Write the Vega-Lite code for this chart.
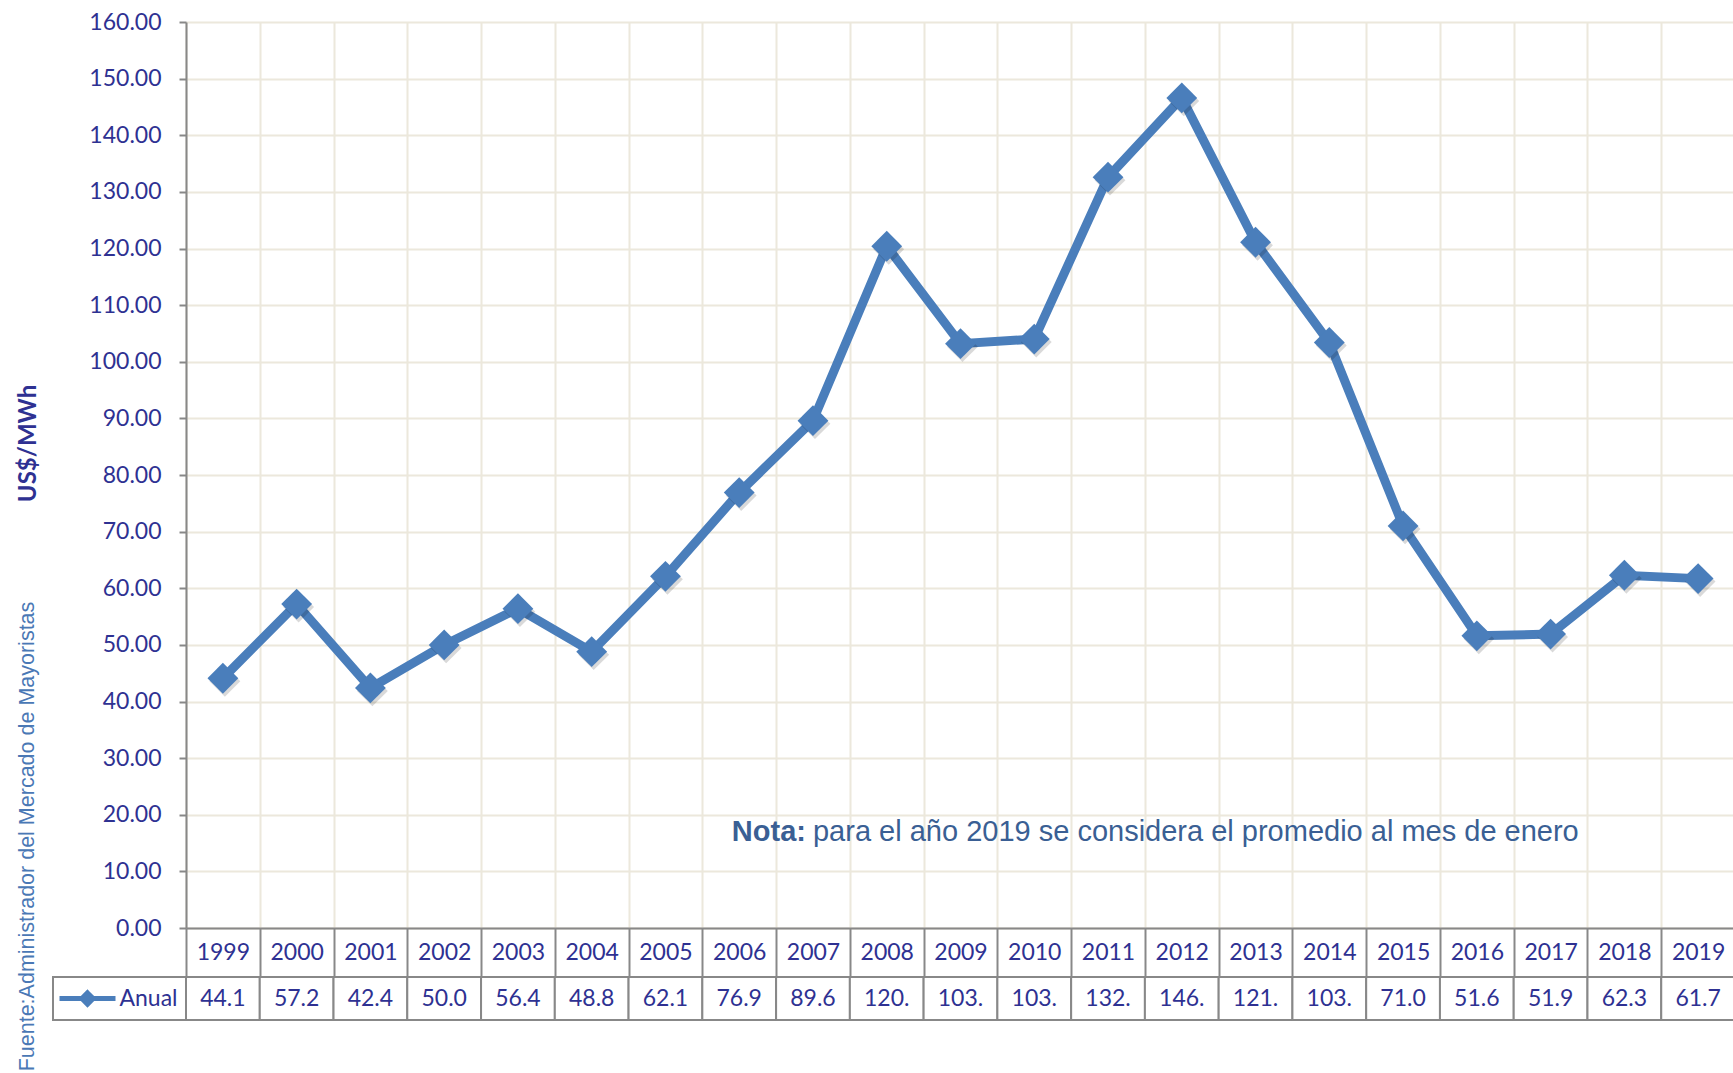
{
  "$schema": "https://vega.github.io/schema/vega-lite/v6.json",
  "padding": {"left": 14, "top": 11, "right": 0, "bottom": 0},
  "background": "white",
  "config": {"view": {"stroke": null}, "font": "Lato"},
  "datasets": {
    "precios": [
      {"anio": "1999", "precio": 44.1, "etiqueta": "44.1"},
      {"anio": "2000", "precio": 57.2, "etiqueta": "57.2"},
      {"anio": "2001", "precio": 42.4, "etiqueta": "42.4"},
      {"anio": "2002", "precio": 50.0, "etiqueta": "50.0"},
      {"anio": "2003", "precio": 56.4, "etiqueta": "56.4"},
      {"anio": "2004", "precio": 48.8, "etiqueta": "48.8"},
      {"anio": "2005", "precio": 62.1, "etiqueta": "62.1"},
      {"anio": "2006", "precio": 76.9, "etiqueta": "76.9"},
      {"anio": "2007", "precio": 89.6, "etiqueta": "89.6"},
      {"anio": "2008", "precio": 120.4, "etiqueta": "120."},
      {"anio": "2009", "precio": 103.2, "etiqueta": "103."},
      {"anio": "2010", "precio": 104.0, "etiqueta": "103."},
      {"anio": "2011", "precio": 132.6, "etiqueta": "132."},
      {"anio": "2012", "precio": 146.6, "etiqueta": "146."},
      {"anio": "2013", "precio": 121.1, "etiqueta": "121."},
      {"anio": "2014", "precio": 103.4, "etiqueta": "103."},
      {"anio": "2015", "precio": 71.0, "etiqueta": "71.0"},
      {"anio": "2016", "precio": 51.6, "etiqueta": "51.6"},
      {"anio": "2017", "precio": 51.9, "etiqueta": "51.9"},
      {"anio": "2018", "precio": 62.3, "etiqueta": "62.3"},
      {"anio": "2019", "precio": 61.7, "etiqueta": "61.7"}
    ],
    "nota": [
      {"anio": "2007", "precio": 17, "titulo": "Nota:", "texto": "para el año 2019 se considera el promedio al mes de enero"}
    ]
  },
  "columns": 2,
  "bounds": "flush",
  "spacing": {"row": 49, "column": 0},
  "resolve": {"scale": {"x": "independent", "y": "independent"}},
  "concat": [
    {
      "width": 133,
      "height": 906,
      "data": {"values": [{"v": 0}]},
      "mark": {"type": "point", "opacity": 0}
    },
    {
      "width": 1549,
      "height": 906,
      "data": {"name": "precios"},
      "encoding": {
        "x": {
          "field": "anio",
          "type": "ordinal",
          "bandPosition": 0.5,
          "scale": {"type": "band", "paddingInner": 0, "paddingOuter": 0},
          "axis": {
            "title": null,
            "tickBand": "extent",
            "grid": true,
            "gridColor": "#ece8dc",
            "gridWidth": 2,
            "ticks": true,
            "tickSize": 49,
            "tickColor": "#888888",
            "tickWidth": 2,
            "domainColor": "#888888",
            "domainWidth": 2,
            "labelAngle": 0,
            "labelFont": "Lato",
            "labelFontSize": 23,
            "labelColor": "#2e3192",
            "labelBaseline": "middle",
            "labelPadding": -24.5
          }
        },
        "y": {
          "field": "precio",
          "type": "quantitative",
          "scale": {"domain": [0, 160], "nice": false},
          "axis": {
            "title": "US$/MWh",
            "values": [0, 10, 20, 30, 40, 50, 60, 70, 80, 90, 100, 110, 120, 130, 140, 150, 160],
            "format": ".2f",
            "grid": true,
            "gridColor": "#ece8dc",
            "gridWidth": 2,
            "tickSize": 7,
            "tickColor": "#888888",
            "tickWidth": 2,
            "domainColor": "#888888",
            "domainWidth": 2,
            "labelFont": "Lato",
            "labelFontSize": 23,
            "labelColor": "#2e3192",
            "labelPadding": 18,
            "titleFont": "Lato",
            "titleFontSize": 24,
            "titleFontWeight": "bold",
            "titleColor": "#2e3192",
            "titleX": -158,
            "titleY": 421,
            "titleAngle": -90,
            "titleAlign": "center",
            "titleBaseline": "middle"
          }
        }
      },
      "layer": [
        {"mark": {"type": "line", "color": "#4a7ebb", "strokeWidth": 9}},
        {"mark": {"type": "point", "shape": "diamond", "filled": true, "size": 950, "color": "#000000", "opacity": 0.15, "xOffset": 2, "yOffset": 3}},
        {"mark": {"type": "point", "shape": "diamond", "filled": true, "size": 950, "color": "#4a7ebb", "opacity": 1}},
        {
          "data": {"name": "nota"},
          "mark": {"type": "text", "align": "right", "baseline": "middle", "dx": -7, "font": "Liberation Sans", "fontSize": 29, "fontWeight": "bold", "color": "#3a5f94"},
          "encoding": {"text": {"field": "titulo", "type": "nominal"}}
        },
        {
          "data": {"name": "nota"},
          "mark": {"type": "text", "align": "left", "baseline": "middle", "font": "Liberation Sans", "fontSize": 29, "color": "#3a5f94"},
          "encoding": {"text": {"field": "texto", "type": "nominal"}}
        }
      ]
    },
    {
      "width": 133,
      "height": 43,
      "view": {"stroke": "#888888", "strokeWidth": 2},
      "data": {"values": [{"serie": "Anual"}]},
      "encoding": {
        "y": {
          "field": "serie",
          "type": "nominal",
          "scale": {"paddingInner": 0, "paddingOuter": 0},
          "axis": {
            "labels": false,
            "ticks": false,
            "domain": false,
            "title": "Fuente:Administrador del Mercado de Mayoristas",
            "titleFont": "Liberation Sans",
            "titleFontSize": 21.5,
            "titleFontWeight": "normal",
            "titleColor": "#4a78b5",
            "titleX": -26,
            "titleY": -141,
            "titleAngle": -90,
            "titleAlign": "center",
            "titleBaseline": "middle"
          }
        }
      },
      "layer": [
        {"mark": {"type": "point", "shape": "M-1,0H1M0,-0.2L0.2,0L0,0.2L-0.2,0Z", "size": 3136, "filled": true, "fill": "#4a7ebb", "stroke": "#4a7ebb", "strokeWidth": 5, "opacity": 1, "xOffset": -32}},
        {"mark": {"type": "text", "align": "left", "baseline": "middle", "font": "Lato", "fontSize": 23, "color": "#2e3192"}, "encoding": {"text": {"field": "serie"}}}
      ]
    },
    {
      "width": 1549,
      "height": 43,
      "data": {"name": "precios"},
      "encoding": {
        "x": {
          "field": "anio",
          "type": "ordinal",
          "scale": {"type": "band", "paddingInner": 0, "paddingOuter": 0},
          "axis": null
        }
      },
      "layer": [
        {"mark": {"type": "rect", "fill": "white", "stroke": "#888888", "strokeWidth": 2}},
        {"mark": {"type": "text", "align": "center", "baseline": "middle", "font": "Lato", "fontSize": 23, "color": "#2e3192"}, "encoding": {"text": {"field": "etiqueta"}}}
      ]
    }
  ]
}
